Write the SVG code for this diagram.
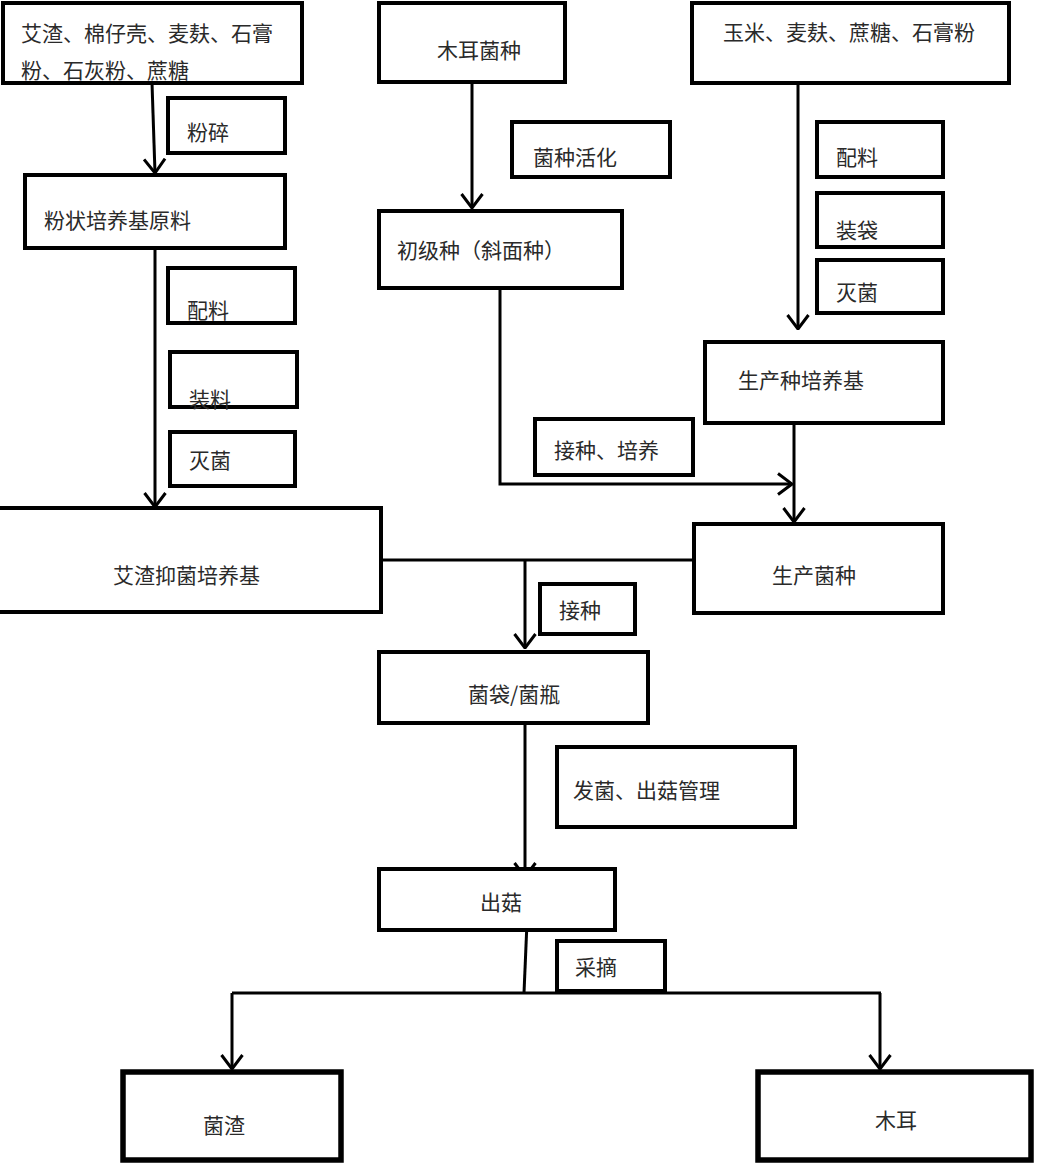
<svg xmlns="http://www.w3.org/2000/svg" width="1043" height="1169" viewBox="0 0 1043 1169">
<style>
.box{fill:#fff;stroke:#000;stroke-width:4}
.thick{stroke-width:5.5}
.t{font-family:"Noto Sans CJK SC","Noto Sans",sans-serif;font-size:21px;fill:#2a2a2a}
.c{fill:none;stroke:#000;stroke-width:3}
</style>
<defs>
<marker id="arr" viewBox="0 0 16 24" refX="15" refY="12" markerWidth="16" markerHeight="24" orient="auto" markerUnits="userSpaceOnUse">
<path d="M1,1.5 L15,12 L1,22.5" fill="none" stroke="#000" stroke-width="3"/>
</marker>
</defs>
<rect width="1043" height="1169" fill="#fff"/>
<g id="connectors">
<path class="c" d="M152,83 L155,173" marker-end="url(#arr)"/>
<path class="c" d="M155,248 L155,507" marker-end="url(#arr)"/>
<path class="c" d="M472,82 L472,208" marker-end="url(#arr)"/>
<path class="c" d="M798,83 L798,329" marker-end="url(#arr)"/>
<path class="c" d="M500,288 L500,484 L792,484" marker-end="url(#arr)"/>
<path class="c" d="M794,423 L794,522" marker-end="url(#arr)"/>
<path class="c" d="M381,560 L694,560"/>
<path class="c" d="M525,560 L525,648" marker-end="url(#arr)"/>
<path class="c" d="M525,723 L525,877" marker-end="url(#arr)"/>
<path class="c" d="M527,922 L524,993"/>
<path class="c" d="M232,993 L881,993"/>
<path class="c" d="M232,993 L232,1069" marker-end="url(#arr)"/>
<path class="c" d="M880,993 L880,1069" marker-end="url(#arr)"/>
</g>
<g id="n-raw1"><rect class="box" x="3" y="3" width="299" height="80"/><text class="t" x="21" y="41">艾渣、棉仔壳、麦麸、石膏</text><text class="t" x="21" y="78">粉、石灰粉、蔗糖</text></g>
<g id="n-seed"><rect class="box" x="379" y="3" width="186" height="79"/><text class="t" x="437" y="58">木耳菌种</text></g>
<g id="n-raw2"><rect class="box" x="692" y="3" width="317" height="80"/><text class="t" x="723" y="40">玉米、麦麸、蔗糖、石膏粉</text></g>
<g id="l-crush"><rect class="box" x="168" y="98" width="117" height="55"/><text class="t" x="187" y="140">粉碎</text></g>
<g id="n-powder"><rect class="box" x="25" y="175" width="260" height="73"/><text class="t" x="44" y="228">粉状培养基原料</text></g>
<g id="l-mix1"><rect class="box" x="168" y="268" width="127" height="55"/><text class="t" x="187" y="318">配料</text></g>
<g id="l-fill"><rect class="box" x="170" y="352" width="127" height="55"/><text class="t" x="189" y="407">装料</text></g>
<g id="l-steril1"><rect class="box" x="170" y="432" width="125" height="54"/><text class="t" x="189" y="468">灭菌</text></g>
<g id="n-medium"><rect class="box" x="-10" y="508" width="391" height="104"/><text class="t" x="113" y="583">艾渣抑菌培养基</text></g>
<g id="l-activate"><rect class="box" x="512" y="122" width="158" height="55"/><text class="t" x="533" y="165">菌种活化</text></g>
<g id="n-primary"><rect class="box" x="379" y="211" width="243" height="77"/><text class="t" x="397" y="258">初级种（斜面种）</text></g>
<g id="l-mix2"><rect class="box" x="817" y="122" width="126" height="55"/><text class="t" x="836" y="165">配料</text></g>
<g id="l-bag"><rect class="box" x="817" y="193" width="126" height="54"/><text class="t" x="836" y="238">装袋</text></g>
<g id="l-steril2"><rect class="box" x="817" y="260" width="126" height="53"/><text class="t" x="836" y="300">灭菌</text></g>
<g id="n-prodmedium"><rect class="box" x="705" y="342" width="238" height="81"/><text class="t" x="738" y="388">生产种培养基</text></g>
<g id="l-inoc1"><rect class="box" x="535" y="419" width="158" height="56"/><text class="t" x="554" y="458">接种、培养</text></g>
<g id="n-prodseed"><rect class="box" x="694" y="524" width="249" height="89"/><text class="t" x="772" y="583">生产菌种</text></g>
<g id="l-inoc2"><rect class="box" x="540" y="584" width="95" height="50"/><text class="t" x="559" y="618">接种</text></g>
<g id="n-bag"><rect class="box" x="379" y="652" width="269" height="71"/><text class="t" x="468" y="702">菌袋/菌瓶</text></g>
<g id="l-manage"><rect class="box" x="557" y="747" width="238" height="80"/><text class="t" x="573" y="798">发菌、出菇管理</text></g>
<g id="n-fruit"><rect class="box" x="379" y="869" width="236" height="61"/><text class="t" x="480" y="910">出菇</text></g>
<g id="l-pick"><rect class="box" x="557" y="941" width="108" height="50"/><text class="t" x="575" y="975">采摘</text></g>
<g id="n-residue"><rect class="box thick" x="123" y="1072" width="218" height="88"/><text class="t" x="203" y="1133">菌渣</text></g>
<g id="n-fungus"><rect class="box thick" x="758" y="1072" width="273" height="88"/><text class="t" x="875" y="1128">木耳</text></g>
</svg>
